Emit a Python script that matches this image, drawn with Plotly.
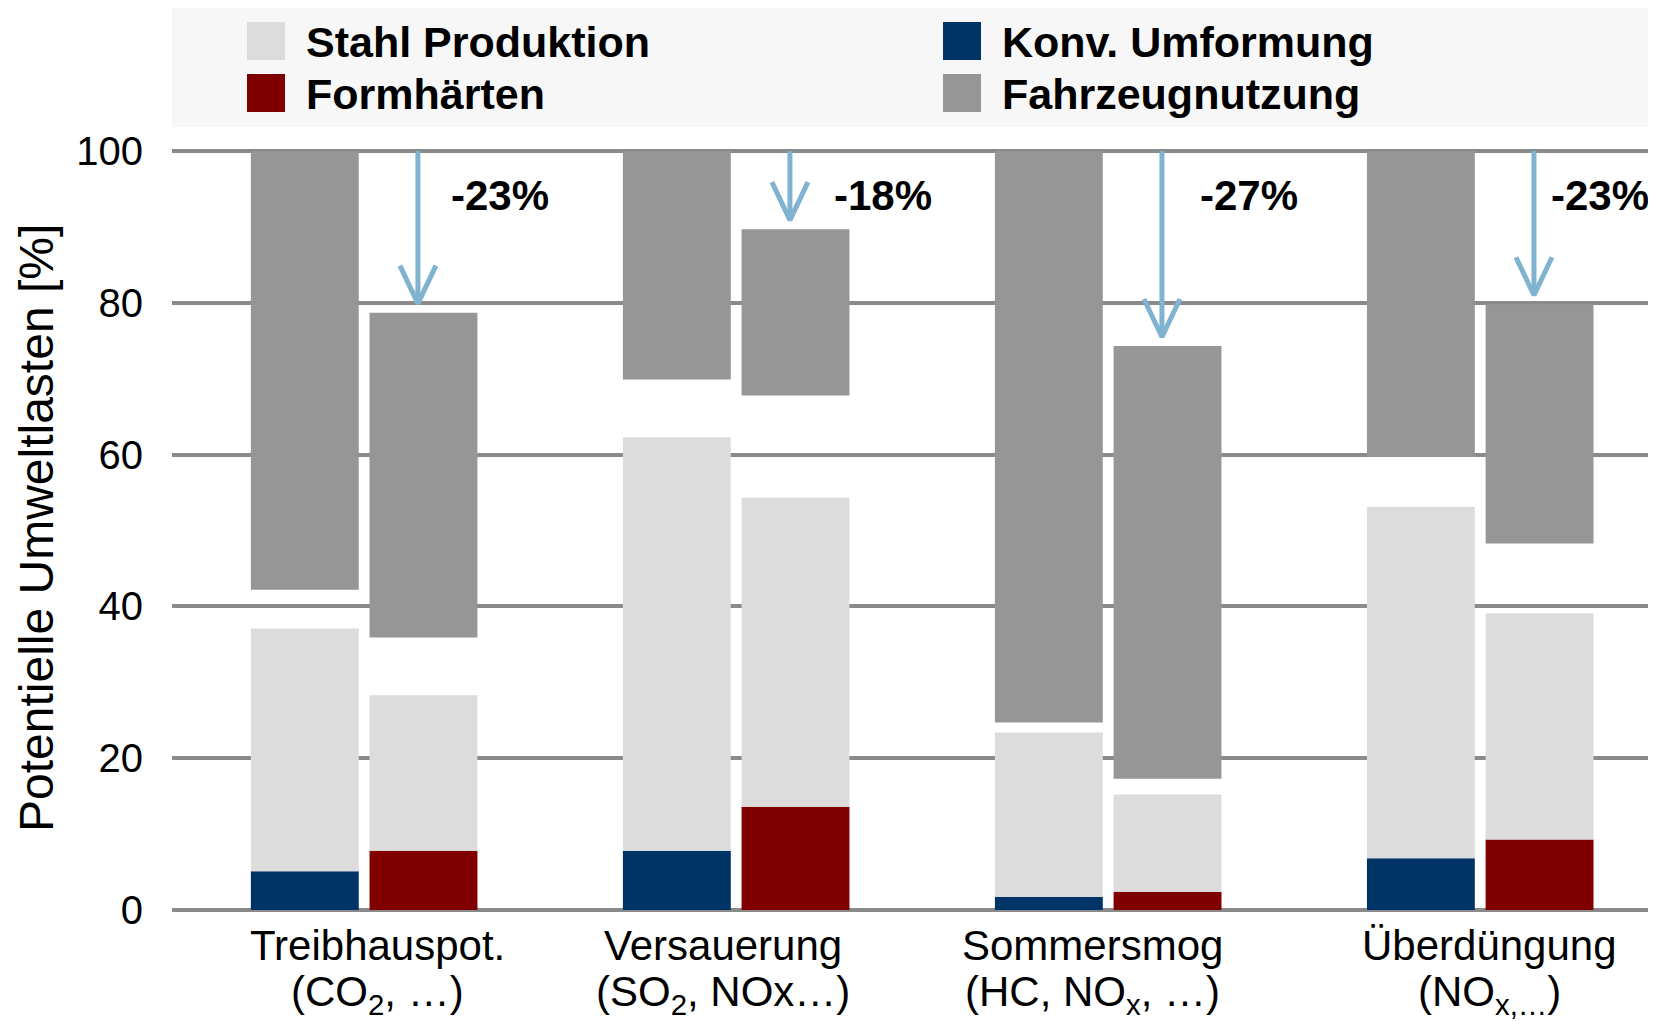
import plotly.graph_objects as go

# ---------------- data ----------------
kategorien_zeile1 = ["Treibhauspot.", "Versauerung", "Sommersmog", "Überdüngung"]
kategorien_zeile2 = ["(CO<sub>2</sub>, …)", "(SO<sub>2</sub>, NOx…)",
                     "(HC, NO<sub>x</sub>, …)", "(NO<sub>x,…</sub>)"]

# conventional forming variant (left bar in each group)
konv_umformung = [5.1, 7.8, 1.7, 6.8]
konv_stahl = [32.0, 54.5, 21.7, 46.3]
konv_luecke = [5.1, 7.6, 1.3, 6.6]
konv_fahrzeug = [57.8, 30.1, 75.3, 40.3]

# press hardening variant (right bar in each group)
form_haerten = [7.8, 13.6, 2.4, 9.3]
form_stahl = [20.5, 40.7, 12.8, 29.8]
form_luecke = [7.6, 13.5, 2.1, 9.2]
form_fahrzeug = [42.8, 21.9, 57.0, 31.5]

reduktion = ["-23%", "-18%", "-27%", "-23%"]
y_ticks = [0, 20, 40, 60, 80, 100]

legend_items = [
    ("Stahl Produktion", "#dcdcdc"),
    ("Formhärten", "#800000"),
    ("Konv. Umformung", "#003366"),
    ("Fahrzeugnutzung", "#969696"),
]

# ---------------- style ----------------
PAGE_OFF = 8                      # default body margin of the html page
W, H = 1656 - PAGE_OFF, 1021 - PAGE_OFF
# target page-pixel positions of the plot area
P_LEFT, P_RIGHT, P_TOP, P_BOTTOM = 172, 1656, 148, 913
ML = P_LEFT - PAGE_OFF
MR = W - (P_RIGHT - PAGE_OFF)
MT = P_TOP - PAGE_OFF
MB = H - (P_BOTTOM - PAGE_OFF)
FONT = "Liberation Sans, Arial, sans-serif"
C_BLUE, C_RED, C_LIGHT, C_DARK = "#003366", "#800000", "#dcdcdc", "#969696"
C_ARROW = "#7fb3cf"
OFF_A, OFF_B, BAR_W = -0.159, 0.16, 0.29
ARROW_OFF = 0.145
X_RANGE = [-0.516, 3.473]
Y_RANGE = [-0.4, 100.4]
label_shift = [31, 42, 36, 15]          # px, percent labels right of arrow
cat_shift = [14, -13, -16, 9]           # px, category label shifts

plot_w = W - ML - MR
plot_h = H - MT - MB


def px_x(p):
    """page pixel x -> paper coordinate"""
    return (p - P_LEFT) / plot_w


def px_y(p):
    """page pixel y -> paper coordinate"""
    return (P_BOTTOM - p) / plot_h


n = len(kategorien_zeile1)
xa = [i + OFF_A for i in range(n)]
xb = [i + OFF_B for i in range(n)]

fig = go.Figure()

# bottom segments
fig.add_bar(x=xa, y=konv_umformung, base=[0] * n, width=BAR_W,
            marker=dict(color=C_BLUE, line=dict(width=0)), name="Konv. Umformung")
fig.add_bar(x=xb, y=form_haerten, base=[0] * n, width=BAR_W,
            marker=dict(color=C_RED, line=dict(width=0)), name="Formhärten")
# steel production
fig.add_bar(x=xa + xb, y=konv_stahl + form_stahl,
            base=konv_umformung + form_haerten, width=BAR_W,
            marker=dict(color=C_LIGHT, line=dict(width=0)), name="Stahl Produktion")
# vehicle use (floating)
base_fa = [u + s + g for u, s, g in zip(konv_umformung, konv_stahl, konv_luecke)]
base_fb = [u + s + g for u, s, g in zip(form_haerten, form_stahl, form_luecke)]
fig.add_bar(x=xa + xb, y=konv_fahrzeug + form_fahrzeug,
            base=base_fa + base_fb, width=BAR_W,
            marker=dict(color=C_DARK, line=dict(width=0)), name="Fahrzeugnutzung")

# reduction arrows
tops_b = [b + f for b, f in zip(base_fb, form_fahrzeug)]
gap_u = 1.2
dy = 38 / (plot_h / (Y_RANGE[1] - Y_RANGE[0]))
dx = 18 / (plot_w / (X_RANGE[1] - X_RANGE[0]))
ax, ay = [], []
for i in range(n):
    xc = i + ARROW_OFF
    tip = tops_b[i] + gap_u
    ax += [xc, xc, None, xc - dx, xc, xc + dx, None]
    ay += [100, tip, None, tip + dy, tip, tip + dy, None]
fig.add_scatter(x=ax, y=ay, mode="lines", line=dict(color=C_ARROW, width=5),
                hoverinfo="skip", showlegend=False)

annotations = []
for i in range(n):
    annotations.append(dict(x=i + ARROW_OFF, y=94.2, xref="x", yref="y",
                            text="<b>" + reduktion[i] + "</b>", showarrow=False,
                            xanchor="left", yanchor="middle", xshift=label_shift[i],
                            font=dict(family=FONT, size=42, color="black")))
    annotations.append(dict(x=i, y=px_y(945), xref="x", yref="paper",
                            text=kategorien_zeile1[i], showarrow=False,
                            xanchor="center", yanchor="middle", xshift=cat_shift[i],
                            font=dict(family=FONT, size=42, color="black")))
    annotations.append(dict(x=i, y=px_y(994), xref="x", yref="paper",
                            text=kategorien_zeile2[i], showarrow=False,
                            xanchor="center", yanchor="middle", xshift=cat_shift[i],
                            font=dict(family=FONT, size=42, color="black")))

# y-axis title
annotations.append(dict(x=px_x(36), y=px_y(528), xref="paper", yref="paper",
                        text="Potentielle Umweltlasten [%]", showarrow=False,
                        textangle=-90, xanchor="center", yanchor="middle",
                        font=dict(family=FONT, size=48, color="black")))

# custom legend
shapes = [dict(type="rect", xref="paper", yref="paper",
               x0=px_x(172), x1=px_x(1656), y0=px_y(127), y1=px_y(5),
               fillcolor="#f7f7f7", line=dict(width=0), layer="below")]
col_x = [247, 943]
row_y = [22, 74]
for k, (lab, col) in enumerate(legend_items):
    c, r = k // 2, k % 2
    x0, y0 = col_x[c], row_y[r]
    shapes.append(dict(type="rect", xref="paper", yref="paper",
                       x0=px_x(x0), x1=px_x(x0 + 38), y0=px_y(y0 + 38), y1=px_y(y0),
                       fillcolor=col, line=dict(width=0)))
    annotations.append(dict(x=px_x(x0 + 57), y=px_y(y0 + 20), xref="paper", yref="paper",
                            text="<b>" + lab + "</b>", showarrow=False,
                            xanchor="left", yanchor="middle",
                            font=dict(family=FONT, size=43, color="black")))

fig.update_layout(
    width=W, height=H,
    margin=dict(l=ML, r=MR, t=MT, b=MB, pad=0),
    barmode="overlay",
    showlegend=False,
    plot_bgcolor="white", paper_bgcolor="white",
    font=dict(family=FONT, size=40, color="black"),
    xaxis=dict(range=X_RANGE, showgrid=False, zeroline=False,
               showticklabels=False, showline=False, fixedrange=True),
    yaxis=dict(range=Y_RANGE, tickvals=y_ticks, showgrid=True,
               gridcolor="#8a8a8a", gridwidth=4, zeroline=False, showline=False,
               ticks="", ticklabelstandoff=28,
               tickfont=dict(family=FONT, size=40, color="black"), fixedrange=True),
    annotations=annotations,
    shapes=shapes,
)

fig.write_html("out.html")
